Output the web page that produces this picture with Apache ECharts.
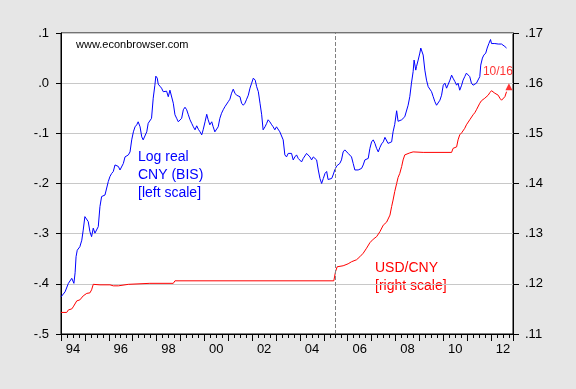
<!DOCTYPE html>
<html>
<head>
<meta charset="utf-8">
<script src="https://cdn.jsdelivr.net/npm/echarts@6/dist/echarts.min.js"></script>
<style>
html,body{margin:0;padding:0;background:#e6e6e6;}
#c{width:576px;height:389px;}
</style>
</head>
<body>
<div id="c"></div>
<script>
// x tick labels (two-digit years, shown for even years)
const labelYears = [1994,1996,1998,2000,2002,2004,2006,2008,2010,2012];
// Log real CNY (BIS), left scale
const blueT = [1994.00,1994.17,1994.31,1994.45,1994.54,1994.59,1994.63,1994.68,1994.79,1994.87,1994.93,1995.00,1995.08,1995.14,1995.21,1995.28,1995.35,1995.42,1995.49,1995.56,1995.63,1995.70,1995.77,1995.84,1995.91,1995.98,1996.05,1996.12,1996.19,1996.26,1996.33,1996.40,1996.47,1996.54,1996.61,1996.68,1996.82,1996.89,1996.96,1997.03,1997.10,1997.17,1997.23,1997.31,1997.38,1997.44,1997.51,1997.59,1997.65,1997.72,1997.79,1997.86,1997.93,1997.97,1998.03,1998.07,1998.14,1998.21,1998.28,1998.35,1998.42,1998.49,1998.56,1998.63,1998.70,1998.77,1998.84,1998.91,1998.98,1999.05,1999.12,1999.19,1999.26,1999.33,1999.40,1999.47,1999.54,1999.61,1999.68,1999.75,1999.82,1999.89,1999.95,2000.03,2000.10,2000.16,2000.23,2000.31,2000.37,2000.44,2000.51,2000.58,2000.65,2000.72,2000.79,2000.86,2000.93,2001.00,2001.07,2001.14,2001.21,2001.28,2001.35,2001.42,2001.49,2001.56,2001.63,2001.70,2001.77,2001.84,2001.91,2001.98,2002.05,2002.09,2002.13,2002.19,2002.26,2002.33,2002.40,2002.46,2002.54,2002.61,2002.67,2002.74,2002.82,2002.88,2002.95,2003.02,2003.09,2003.16,2003.23,2003.30,2003.37,2003.44,2003.51,2003.58,2003.65,2003.72,2003.79,2003.86,2003.93,2004.00,2004.07,2004.14,2004.21,2004.28,2004.35,2004.42,2004.49,2004.56,2004.63,2004.70,2004.77,2004.84,2004.91,2004.98,2005.05,2005.12,2005.18,2005.26,2005.33,2005.39,2005.46,2005.54,2005.60,2005.67,2005.74,2005.81,2005.88,2005.95,2006.02,2006.09,2006.16,2006.23,2006.30,2006.37,2006.44,2006.51,2006.58,2006.65,2006.72,2006.79,2006.86,2006.93,2007.00,2007.07,2007.14,2007.21,2007.28,2007.35,2007.42,2007.49,2007.56,2007.63,2007.69,2007.77,2007.84,2007.90,2007.97,2008.05,2008.11,2008.18,2008.26,2008.32,2008.39,2008.46,2008.53,2008.60,2008.67,2008.74,2008.78,2008.81,2008.85,2008.88,2008.95,2009.02,2009.06,2009.13,2009.16,2009.23,2009.30,2009.37,2009.44,2009.51,2009.58,2009.65,2009.72,2009.79,2009.86,2009.93,2010.00,2010.07,2010.14,2010.21,2010.28,2010.35,2010.41,2010.49,2010.56,2010.62,2010.69,2010.77,2010.83,2010.90,2010.97,2011.04,2011.11,2011.18,2011.25,2011.32,2011.39,2011.46,2011.53,2011.57,2011.64,2011.70,2011.78,2011.84,2011.91,2011.98,2012.02,2012.09,2012.16,2012.23,2012.30,2012.37,2012.44,2012.51,2012.58,2012.65];
const blueV = [-0.426,-0.416,-0.399,-0.389,-0.399,-0.378,-0.346,-0.333,-0.326,-0.313,-0.293,-0.266,-0.263,-0.276,-0.296,-0.306,-0.289,-0.299,-0.296,-0.286,-0.246,-0.226,-0.229,-0.223,-0.220,-0.196,-0.186,-0.180,-0.176,-0.163,-0.160,-0.166,-0.173,-0.170,-0.160,-0.147,-0.143,-0.137,-0.113,-0.097,-0.087,-0.083,-0.077,-0.087,-0.107,-0.113,-0.110,-0.097,-0.080,-0.077,-0.070,-0.030,-0.004,0.014,0.010,-0.002,-0.006,-0.010,-0.017,-0.020,-0.016,-0.027,-0.014,-0.017,-0.040,-0.063,-0.070,-0.077,-0.077,-0.070,-0.053,-0.048,-0.053,-0.063,-0.073,-0.080,-0.087,-0.093,-0.085,-0.092,-0.097,-0.103,-0.093,-0.077,-0.062,-0.073,-0.083,-0.077,-0.087,-0.097,-0.095,-0.087,-0.070,-0.060,-0.053,-0.047,-0.047,-0.037,-0.032,-0.020,-0.012,-0.020,-0.024,-0.024,-0.027,-0.040,-0.044,-0.040,-0.032,-0.024,-0.010,0.000,0.010,0.013,0.006,-0.007,-0.017,-0.040,-0.063,-0.093,-0.087,-0.080,-0.073,-0.077,-0.083,-0.087,-0.093,-0.087,-0.090,-0.097,-0.097,-0.113,-0.143,-0.147,-0.140,-0.137,-0.140,-0.153,-0.147,-0.143,-0.150,-0.153,-0.157,-0.150,-0.147,-0.140,-0.137,-0.147,-0.153,-0.147,-0.145,-0.153,-0.173,-0.190,-0.200,-0.190,-0.180,-0.176,-0.192,-0.190,-0.190,-0.183,-0.173,-0.165,-0.163,-0.160,-0.153,-0.137,-0.133,-0.133,-0.140,-0.143,-0.147,-0.160,-0.173,-0.176,-0.173,-0.173,-0.170,-0.163,-0.153,-0.150,-0.150,-0.130,-0.117,-0.113,-0.120,-0.130,-0.137,-0.128,-0.121,-0.117,-0.108,-0.108,-0.120,-0.123,-0.117,-0.097,-0.082,-0.055,-0.076,-0.078,-0.073,-0.070,-0.067,-0.065,-0.044,-0.027,0.000,0.023,0.046,0.043,0.026,0.033,0.046,0.060,0.070,0.068,0.056,0.026,0.006,-0.007,-0.010,-0.017,-0.027,-0.037,-0.044,-0.047,-0.034,-0.024,-0.004,0.000,-0.010,-0.012,0.006,0.016,0.010,0.003,-0.004,0.000,-0.014,-0.004,0.006,0.013,0.020,0.021,0.013,0.000,-0.004,-0.004,0.000,0.003,0.013,0.036,0.050,0.056,0.060,0.070,0.079,0.087,0.079,0.076,0.079,0.076,0.078,0.079,0.078,0.076,0.073,0.070];
// USD/CNY, right scale
const redT = [1994.00,1994.24,1994.31,1994.45,1994.51,1994.66,1994.79,1994.93,1995.08,1995.21,1995.28,1995.35,1995.42,1995.63,1996.05,1996.19,1996.40,1996.47,1996.82,1997.72,1998.70,1998.77,2005.42,2005.49,2005.56,2005.81,2006.02,2006.16,2006.37,2006.44,2006.51,2006.65,2006.79,2006.93,2007.07,2007.21,2007.35,2007.49,2007.63,2007.77,2007.84,2007.90,2007.97,2008.05,2008.11,2008.18,2008.26,2008.32,2008.39,2008.46,2008.60,2008.74,2008.81,2009.16,2010.35,2010.41,2010.56,2010.62,2010.69,2010.77,2010.83,2010.90,2010.97,2011.04,2011.11,2011.18,2011.25,2011.32,2011.39,2011.46,2011.53,2011.60,2011.74,2011.81,2011.88,2011.95,2012.02,2012.09,2012.16,2012.23,2012.30,2012.37,2012.44,2012.51,2012.58,2012.65];
const redV = [0.1143,0.1143,0.1148,0.1150,0.1154,0.1166,0.1168,0.1176,0.1181,0.1182,0.1188,0.1199,0.1200,0.1198,0.1198,0.1196,0.1196,0.1198,0.1199,0.1201,0.1201,0.1206,0.1206,0.1224,0.1234,0.1236,0.1240,0.1244,0.1248,0.1249,0.1254,0.1261,0.1271,0.1282,0.1289,0.1294,0.1304,0.1317,0.1323,0.1337,0.1354,0.1367,0.1384,0.1400,0.1412,0.1420,0.1434,0.1447,0.1457,0.1460,0.1461,0.1463,0.1460,0.1462,0.1462,0.1470,0.1473,0.1487,0.1497,0.1501,0.1503,0.1510,0.1517,0.1520,0.1527,0.1530,0.1537,0.1541,0.1547,0.1550,0.1560,0.1565,0.1570,0.1573,0.1576,0.1581,0.1585,0.1583,0.1580,0.1583,0.1576,0.1570,0.1566,0.1568,0.1573,0.1583];
// latest point (10/16)
const latestT = [2012.75];
const latestV = [0.1593];
const latestLabel = '10/16';
// revaluation date (dashed line)
const revalT = 2005.46;

const FONT = '"Liberation Sans", Arial, sans-serif';
const chart = echarts.init(document.getElementById('c'), null, {renderer:'canvas'});
const zip = (a,b) => a.map((t,i)=>[t,b[i]]);

chart.setOption({
  backgroundColor:'#e6e6e6',
  animation:false,
  textStyle:{fontFamily:FONT},
  grid:{left:61, right:63, top:33, height:301, show:true, backgroundColor:'#ffffff', borderColor:'#000', borderWidth:1},
  xAxis:{
    type:'value', min:1994, max:2012.92, interval:1, position:'bottom',
    axisLine:{show:true, onZero:false, lineStyle:{color:'#000', width:1}},
    axisTick:{show:true, length:7, lineStyle:{color:'#000'}},
    minorTick:{show:true, splitNumber:4, length:4, lineStyle:{color:'#000'}},
    splitLine:{show:false},
    axisLabel:{
      margin:9, color:'#000', fontSize:13, fontFamily:FONT,
      formatter:function(v){
        if (Math.abs(v-Math.round(v))>1e-6) return '';
        const y = Math.round(v);
        if (labelYears.indexOf(y)<0) return '';
        return '{a|'+String(y).slice(2)+'}';
      },
      rich:{a:{padding:[0,0,0,24], fontSize:13, color:'#000', fontFamily:FONT}}
    }
  },
  yAxis:[{
    type:'value', min:-0.5, max:0.1, interval:0.1, position:'left',
    axisLine:{show:true, lineStyle:{color:'#000'}},
    axisTick:{show:true, length:5, lineStyle:{color:'#000'}},
    splitLine:{show:true, lineStyle:{color:'#c8c8c8', width:1}},
    axisLabel:{margin:12, color:'#000', fontSize:13, fontFamily:FONT,
      formatter:v=>v.toFixed(1).replace('0.','.')}
  },{
    type:'value', min:0.11, max:0.17, interval:0.01, position:'right',
    axisLine:{show:true, lineStyle:{color:'#000'}},
    axisTick:{show:true, length:6, lineStyle:{color:'#000'}},
    splitLine:{show:false},
    axisLabel:{margin:12, color:'#000', fontSize:13, fontFamily:FONT,
      formatter:v=>v.toFixed(2).replace('0.','.')}
  }],
  series:[{
    type:'line', name:'Log real CNY (BIS)', yAxisIndex:0, data:zip(blueT,blueV),
    showSymbol:false, symbol:'none', lineStyle:{color:'#0000ff', width:1}, z:3,
    markLine:{silent:true, symbol:'none', label:{show:false},
      lineStyle:{color:'#808080', type:[4,2], width:1},
      data:[{xAxis:revalT}]}
  },{
    type:'line', name:'USD/CNY', yAxisIndex:1, data:zip(redT,redV),
    showSymbol:false, symbol:'none', lineStyle:{color:'#ff0000', width:1}, z:3
  },{
    type:'scatter', yAxisIndex:1, data:zip(latestT,latestV),
    symbol:'triangle', symbolSize:7, itemStyle:{color:'#ff0000'}, z:4,
    label:{show:true, formatter:latestLabel, position:'top', distance:4, offset:[-11,-1],
      color:'#ff0000', fontSize:12, fontFamily:FONT}
  }],
  graphic:[
    {type:'text', left:76, top:39, style:{text:'www.econbrowser.com', fill:'#000', font:'11px '+FONT}},
    {type:'text', left:138, top:148, style:{text:'Log real\nCNY (BIS)\n[left scale]', fill:'#0000ff', font:'14px '+FONT, lineHeight:18}},
    {type:'text', left:375, top:259, style:{text:'USD/CNY\n[right scale]', fill:'#ff0000', font:'14px '+FONT, lineHeight:18}}
  ]
});
</script>
</body>
</html>
